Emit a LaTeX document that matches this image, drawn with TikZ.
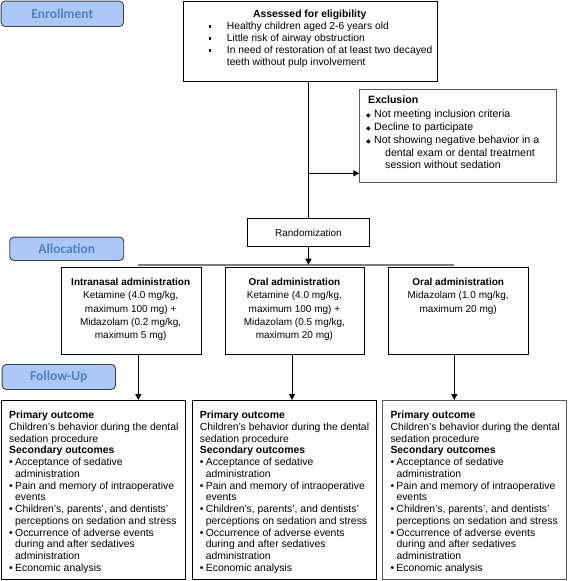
\documentclass[tikz,border=0pt]{standalone}
\usepackage{fontspec}
\setmainfont{Liberation Sans}
\newfontfamily\lblfont{Carlito}
\newfontfamily\symfont{DejaVu Sans}
\usetikzlibrary{arrows.meta}
\definecolor{lblfill}{RGB}{172,200,246}
\definecolor{lbltext}{RGB}{80,128,192}
\definecolor{lbldraw}{RGB}{55,65,85}
\definecolor{barcol}{RGB}{125,125,125}
\definecolor{graybox}{RGB}{90,90,90}
\newcommand\topst{\rule{0pt}{8pt}}
\newcommand\sqb{\rule[2pt]{2.5pt}{2.5pt}}
\newcommand\dmd{{\symfont\fontsize{6}{6}\selectfont ◆}}
\begin{document}
\begin{tikzpicture}[x=1pt,y=-1pt,
  box/.style={draw=black, line width=0.9pt, inner sep=0pt, anchor=north west},
  gbox/.style={box, draw=graybox},
  lbl/.style={draw=lbldraw, line width=0.9pt, fill=lblfill, rounded corners=4pt, inner sep=0pt, anchor=north west,
    text=lbltext, font=\lblfont\bfseries\fontsize{13.5}{15}\selectfont},
  txt/.style={inner sep=0pt, align=left, anchor=north west, font=\fontsize{10.3}{12}\selectfont},
  armtxt/.style={inner sep=0pt, align=center, anchor=north, font=\fontsize{10}{13.3}\selectfont},
  outtxt/.style={inner sep=0pt, align=left, anchor=north west, font=\fontsize{10.4}{11.74}\selectfont},
  conn/.style={draw=black, line width=0.9pt},
  arr/.style={conn, -{Triangle[width=6pt,length=6pt]}},
  bar/.style={draw=barcol, line width=2pt}
]
\useasboundingbox (0,0) rectangle (568,581);

% stage labels
\node[lbl, minimum width=122.3pt, minimum height=25.3pt] (enr) at (0.7,0.7) {Enrollment};
\node[lbl, minimum width=114pt, minimum height=23.3pt] (alloc) at (9.3,236.7) {Allocation};
\node[lbl, minimum width=113.3pt, minimum height=25pt] (fol) at (1.7,364) {Follow-Up};

% eligibility
\node[box, minimum width=254pt, minimum height=80.3pt] (elig) at (182.7,0.7) {};
\node[inner sep=0pt, anchor=base, font=\fontsize{10.4}{12}\selectfont\bfseries] (eligt) at (309.7,17.5) {Assessed for eligibility};
\node[txt] (eligl) at (208.7,21.5) {\topst\makebox[18pt][l]{\sqb}Healthy children aged 2-6 years old\\
\makebox[18pt][l]{\sqb}Little risk of airway obstruction\\
\makebox[18pt][l]{\sqb}In need of restoration of at least two decayed\\
\hspace*{18pt}teeth without pulp involvement};

% exclusion
\node[gbox, minimum width=196.4pt, minimum height=92.7pt] (excl) at (359.3,89) {};
\node[inner sep=0pt, anchor=base west, font=\fontsize{10.6}{12}\selectfont\bfseries] (exclt) at (368,103) {Exclusion};
\node[txt, font=\fontsize{10.6}{12.8}\selectfont] (excll) at (366,109.5) {\topst\makebox[8pt][l]{\dmd}Not meeting inclusion criteria\\
\makebox[8pt][l]{\dmd}Decline to participate\\
\makebox[8pt][l]{\dmd}Not showing negative behavior in a\\
\hspace*{19pt}dental exam or dental treatment\\
\hspace*{19pt}session without sedation};

% randomization
\node[box, minimum width=122.6pt, minimum height=27.4pt, font=\fontsize{10}{12}\selectfont] (rand) at (246.7,218.3) {Randomization};

% arms
\node[box, minimum width=140pt, minimum height=87.6pt] (arm1) at (60.7,266.7) {};
\node[box, minimum width=139.8pt, minimum height=87.6pt] (arm2) at (224.5,266.7) {};
\node[box, minimum width=139.7pt, minimum height=87.6pt] (arm3) at (388.3,266.7) {};
\node[armtxt] (arm1t) at (130.7,277.2) {\topst\textbf{Intranasal administration}\\Ketamine (4.0 mg/kg,\\maximum 100 mg) +\\Midazolam (0.2 mg/kg,\\maximum 5 mg)};
\node[armtxt] (arm2t) at (294.4,277.2) {\topst\textbf{Oral administration}\\Ketamine (4.0 mg/kg,\\maximum 100 mg) +\\Midazolam (0.5 mg/kg,\\maximum 20 mg)};
\node[armtxt] (arm3t) at (458.2,277.2) {\topst\textbf{Oral administration}\\Midazolam (1.0 mg/kg,\\maximum 20 mg)};

% outcomes
\node[box, minimum width=184pt, minimum height=179.3pt] (out1) at (1,400) {};
\node[box, minimum width=183.8pt, minimum height=179.3pt] (out2) at (191.7,400) {};
\node[gbox, minimum width=183.4pt, minimum height=179.3pt] (out3) at (382.3,400) {};
\newcommand\outcomes{\topst\textbf{Primary outcome}\\
Children’s behavior during the dental\\
sedation procedure\\
\textbf{Secondary outcomes}\\
\makebox[6pt][l]{•}Acceptance of sedative\\
\hspace*{6pt}administration\\
\makebox[6pt][l]{•}Pain and memory of intraoperative\\
\hspace*{6pt}events\\
\makebox[6pt][l]{•}Children’s, parents’, and dentists’\\
\hspace*{6pt}perceptions on sedation and stress\\
\makebox[6pt][l]{•}Occurrence of adverse events\\
\hspace*{6pt}during and after sedatives\\
\hspace*{6pt}administration\\
\makebox[6pt][l]{•}Economic analysis}
\node[outtxt] (out1t) at (9,410.5) {\outcomes};
\node[outtxt] (out2t) at (199.7,410.5) {\outcomes};
\node[outtxt] (out3t) at (390.3,410.5) {\outcomes};

% connectors
\draw[conn] (rand.north |- elig.south) -- (rand.north);
\coordinate (exj) at (308,173.3);
\draw[arr] (exj) -- (exj -| excl.west);
\coordinate (barL) at (138.3,264.7);
\coordinate (barR) at (454.3,264.7);
\draw[bar] (barL) -- (barR);
\draw[arr] (rand.south) -- (rand.south |- barL);
\coordinate (c1) at (138.3,0);
\coordinate (c2) at (292,0);
\coordinate (c3) at (454.3,0);
\draw[arr] (arm1.south -| c1) -- (out1.north -| c1);
\draw[arr] (arm2.south -| c2) -- (out2.north -| c2);
\draw[arr] (arm3.south -| c3) -- (out3.north -| c3);
\end{tikzpicture}
\end{document}
